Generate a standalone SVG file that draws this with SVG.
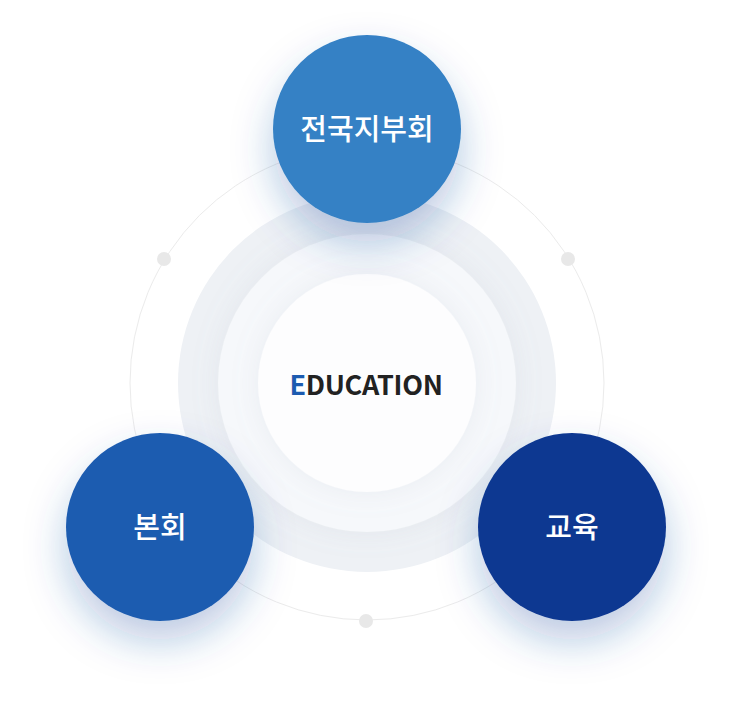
<svg xmlns="http://www.w3.org/2000/svg" width="734" height="720" viewBox="0 0 734 720">
<defs>
<style>
.node-label{font-family:"Noto Sans CJK KR","Noto Sans",sans-serif;font-size:29px;font-weight:500;fill:#ffffff;text-anchor:middle}
.dot{fill:#e8e8e8}
</style>
<filter id="sh" x="-70%" y="-70%" width="240%" height="260%">
<feDropShadow dx="0" dy="20" stdDeviation="20" flood-color="#1c4fa0" flood-opacity="0.3"/>
</filter>
<filter id="sh2" x="-30%" y="-30%" width="160%" height="160%">
<feDropShadow dx="0" dy="0" stdDeviation="14" flood-color="#8a98b0" flood-opacity="0.12"/>
</filter>
</defs>
<rect width="734" height="720" fill="#ffffff"/>
<g id="rings">
<circle cx="367" cy="383" r="237" fill="none" stroke="#ebebeb" stroke-width="1"/>
<circle cx="367" cy="383" r="189" fill="#eef1f5"/>
<circle cx="367" cy="383" r="149" fill="#f6f8fb" filter="url(#sh2)"/>
<circle cx="367" cy="383" r="109" fill="#fdfdfe" filter="url(#sh2)"/>
</g>
<g id="connectors">
<circle class="dot" cx="164" cy="259" r="7"/>
<circle class="dot" cx="568" cy="259" r="7"/>
<circle class="dot" cx="366" cy="621" r="7"/>
</g>
<g id="center">
<text x="366" y="395" font-family="'Noto Sans CJK KR','Noto Sans',sans-serif" font-size="27" font-weight="600" text-anchor="middle" fill="#222222" letter-spacing="-0.3"><tspan fill="#1c5bb0">E</tspan>DUCATION</text>
</g>
<g id="node-top">
<circle cx="367" cy="129" r="94" fill="#3481c5" filter="url(#sh)"/>
<text class="node-label" x="367" y="140">전국지부회</text>
</g>
<g id="node-left">
<circle cx="160" cy="527" r="94" fill="#1c5bb0" filter="url(#sh)"/>
<text class="node-label" x="160" y="538">본회</text>
</g>
<g id="node-right">
<circle cx="572" cy="527" r="94" fill="#0b3791" filter="url(#sh)"/>
<text class="node-label" x="572" y="538">교육</text>
</g>
</svg>
